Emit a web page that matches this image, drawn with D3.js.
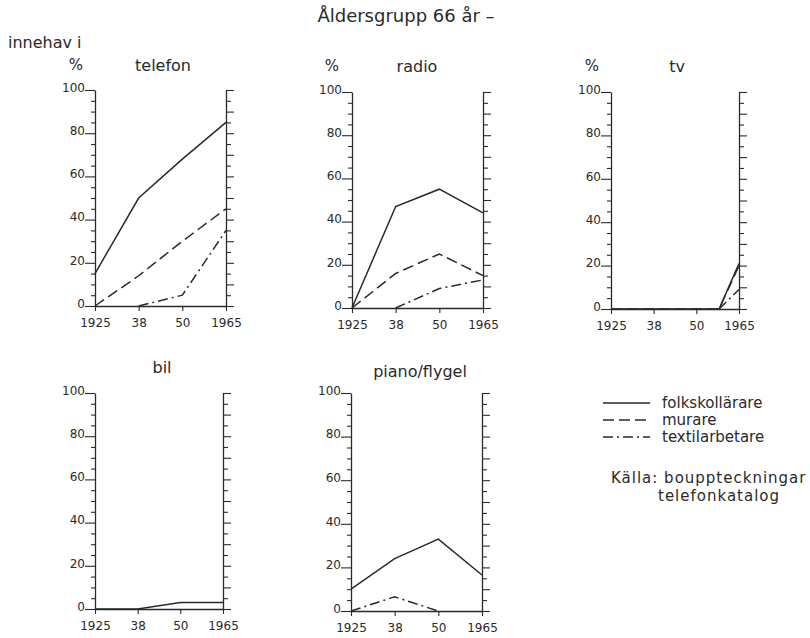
<!DOCTYPE html>
<html><head><meta charset="utf-8">
<script src="https://cdn.jsdelivr.net/npm/d3@7/dist/d3.min.js"></script>
<style>
html,body{margin:0;padding:0;background:#fff;}
text{font-family:"DejaVu Sans",sans-serif;fill:#2a2a2a;}
</style></head><body>
<svg id="c" width="810" height="638"></svg>
<script>
// ---- data ----
const years = [1925, 1938, 1950, 1965];
const yearLabels = ["1925", "38", "50", "1965"];
const tvYears = [1925, 1938, 1950, 1958, 1965];
const seriesNames = ["folkskollärare", "murare", "textilarbetare"];
const yTickValues = [0, 20, 40, 60, 80, 100];

const telefonFolk = [15, 50, 68, 85];
const telefonMurare = [0, 14, 30, 45];
const telefonTextil = [null, 0, 5, 35];

const radioFolk = [0, 47, 55, 44];
const radioMurare = [0, 16, 25, 15];
const radioTextil = [null, 0, 9, 13];

const tvFolk = [0, 0, 0, 0, 21];
const tvMurare = [0, 0, 0, 0, 20];
const tvTextil = [null, null, null, 0, 9];

const bilFolk = [0, 0, 3, 3];
const bilMurare = [null, null, null, null];
const bilTextil = [null, null, null, null];

const pianoFolk = [10, 24, 33, 16.5];
const pianoMurare = [null, null, null, null];
const pianoTextil = [0, 6.5, 0, null];

const titleText = "Åldersgrupp 66 år –";
const yAxisTitle = "innehav i";
const sourceLines = ["Källa: bouppteckningar", "telefonkatalog"];

// ---- layout ----
const panels = [
  {title:"telefon", pct:true, xs:years, s:[telefonFolk, telefonMurare, telefonTextil], L:95, R:226, T:90, B:306, tx:163, ty:71, px:76},
  {title:"radio", pct:true, xs:years, s:[radioFolk, radioMurare, radioTextil], L:352, R:483, T:92, B:308, tx:417, ty:72, px:332},
  {title:"tv", pct:true, xs:tvYears, s:[tvFolk, tvMurare, tvTextil], L:611, R:739, T:92, B:309, tx:677, ty:72, px:592},
  {title:"bil", pct:false, xs:years, s:[bilFolk, bilMurare, bilTextil], L:95, R:223, T:393, B:609, tx:162, ty:373},
  {title:"piano/flygel", pct:false, xs:years, s:[pianoFolk, pianoMurare, pianoTextil], L:351, R:482, T:393, B:611, tx:420, ty:377}
];
const dashes = [null, "11,5", "10,4,2,4"];
const ink = "#2a2a2a";

const svg = d3.select("#c");

svg.append("text").attr("x", 406).attr("y", 22).attr("text-anchor","middle")
  .style("font-size","18px").text(titleText);
svg.append("text").attr("x", 8).attr("y", 48).style("font-size","16px").text(yAxisTitle);

const minor = d3.range(0, 101, 5);

panels.forEach(p => {
  const g = svg.append("g");
  const w = p.R - p.L;
  const x = d3.scaleLinear().domain(years).range([p.L, p.L + w/3, p.L + 2*w/3, p.R]);
  const y = d3.scaleLinear().domain([0, 100]).range([p.B, p.T]);

  // titles
  g.append("text").attr("x", p.tx).attr("y", p.ty).attr("text-anchor","middle")
    .style("font-size","16px").text(p.title);
  if (p.pct) g.append("text").attr("x", p.px).attr("y", p.ty-1).attr("text-anchor","middle")
    .style("font-size","15px").text("%");

  // left axis
  const la = g.append("g").attr("transform", `translate(${p.L},0)`)
    .call(d3.axisLeft(y).tickValues(minor).tickSize(4).tickSizeOuter(0)
      .tickFormat(d => yTickValues.includes(d) ? d : ""));
  la.select(".domain").attr("stroke", ink).attr("stroke-width", 1.3);
  la.selectAll(".tick line").attr("stroke", ink).attr("stroke-width", 1.1)
    .attr("x2", d => yTickValues.includes(d) ? -10 : -4);
  la.selectAll(".tick text").attr("x", -10).attr("dy", "0.1em")
    .style("font-size","12px").style("font-family","DejaVu Sans").attr("fill", ink);

  // right axis
  const ra = g.append("g").attr("transform", `translate(${p.R},0)`)
    .call(d3.axisRight(y).tickValues(minor).tickSize(8).tickSizeOuter(0).tickFormat(""));
  ra.select(".domain").attr("stroke", ink).attr("stroke-width", 1.3);
  ra.selectAll(".tick line").attr("stroke", ink).attr("stroke-width", 1.1)
    .attr("x2", d => d % 10 === 0 ? 8 : 5);

  // bottom axis
  const ba = g.append("g").attr("transform", `translate(0,${p.B})`)
    .call(d3.axisBottom(x).tickValues(years).tickSize(5).tickSizeOuter(0).tickPadding(7)
      .tickFormat((d, i) => yearLabels[i]));
  ba.select(".domain").attr("stroke", ink).attr("stroke-width", 1.3);
  ba.selectAll(".tick line").attr("stroke", ink).attr("stroke-width", 1.1);
  ba.selectAll(".tick text").style("font-size","12px").style("font-family","DejaVu Sans").attr("fill", ink);

  // lines
  p.s.forEach((vals, si) => {
    const pts = p.xs.map((yr, i) => ({yr, v: vals[i]}));
    const line = d3.line().defined(d => d.v !== null).x(d => x(d.yr)).y(d => y(d.v));
    g.append("path").attr("d", line(pts)).attr("fill","none")
      .attr("stroke", ink).attr("stroke-width", 1.5)
      .attr("stroke-dasharray", dashes[si]);
  });
});

// legend
const lg = svg.append("g");
seriesNames.forEach((n, i) => {
  const yy = 408 + i*17;
  lg.append("line").attr("x1", 603).attr("x2", 650).attr("y1", yy-5).attr("y2", yy-5)
    .attr("stroke", ink).attr("stroke-width", 1.4).attr("stroke-dasharray", dashes[i]);
  lg.append("text").attr("x", 662).attr("y", yy).style("font-size","15px").text(n);
});
svg.append("text").attr("x", 611).attr("y", 483).style("font-size","15px")
  .style("letter-spacing","1px").text(sourceLines[0]);
svg.append("text").attr("x", 658).attr("y", 501).style("font-size","15px")
  .style("letter-spacing","1px").text(sourceLines[1]);
</script>
</body></html>
